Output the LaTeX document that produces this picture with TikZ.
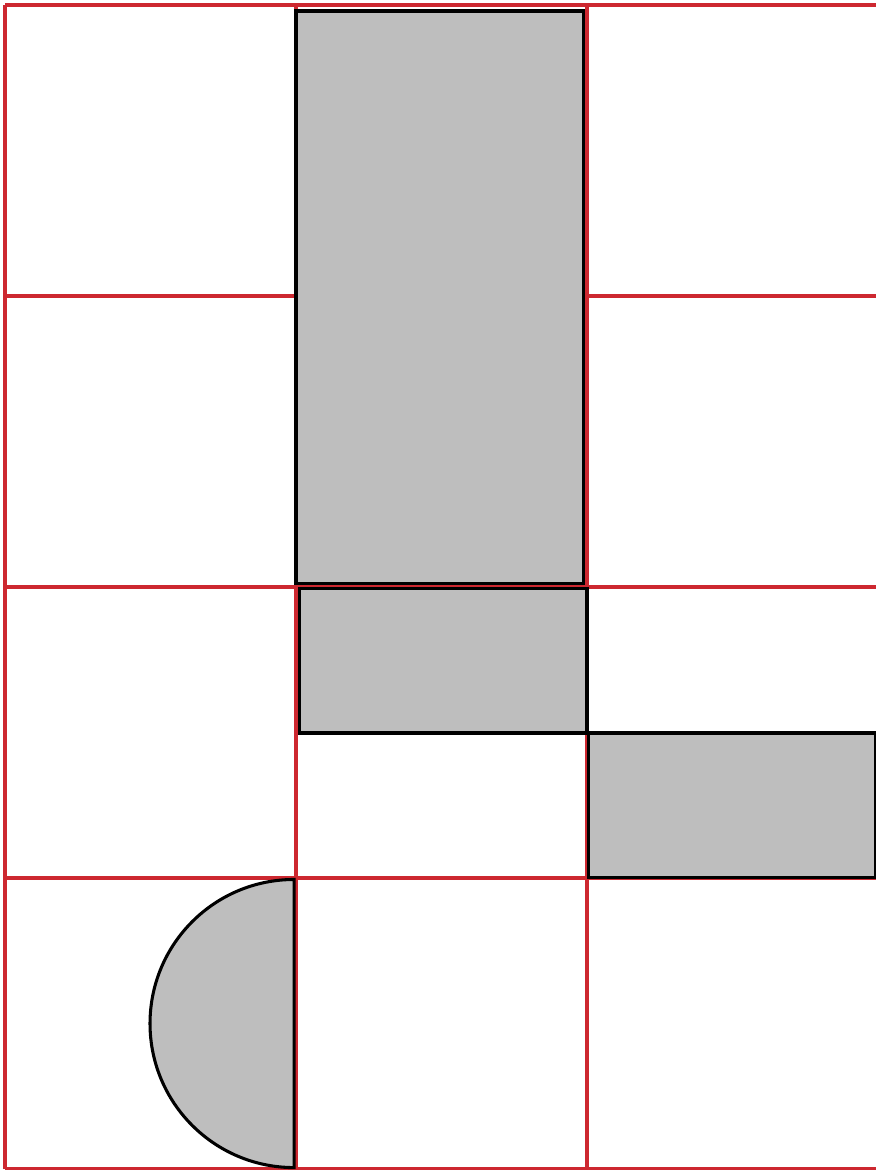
\documentclass[tikz,border=0pt]{standalone}
\definecolor{gridred}{RGB}{205,40,48}
\definecolor{blockgray}{RGB}{190,190,190}
\begin{document}
\begin{tikzpicture}
  \useasboundingbox (-0.0515,0.0515) rectangle (8.979,-12.01);
  \clip (-0.0515,0.0515) rectangle (8.979,-12.01);
  \draw[step=3,gridred,line width=1pt] (0,0) grid (9,-12);
  \draw[fill=blockgray,draw=black,line width=0.9pt] (3.0,-0.062) rectangle (5.96,-5.96);
  \draw[fill=blockgray,draw=black,line width=0.9pt] (3.04,-6.02) rectangle (6.0,-7.505);
  \draw[fill=blockgray,draw=black,line width=0.9pt] (6.02,-7.505) rectangle (8.97,-8.99);
  \draw[fill=blockgray,draw=black,line width=0.9pt] (2.98,-9.015) arc (90:270:1.485) -- cycle;
\end{tikzpicture}
\end{document}
